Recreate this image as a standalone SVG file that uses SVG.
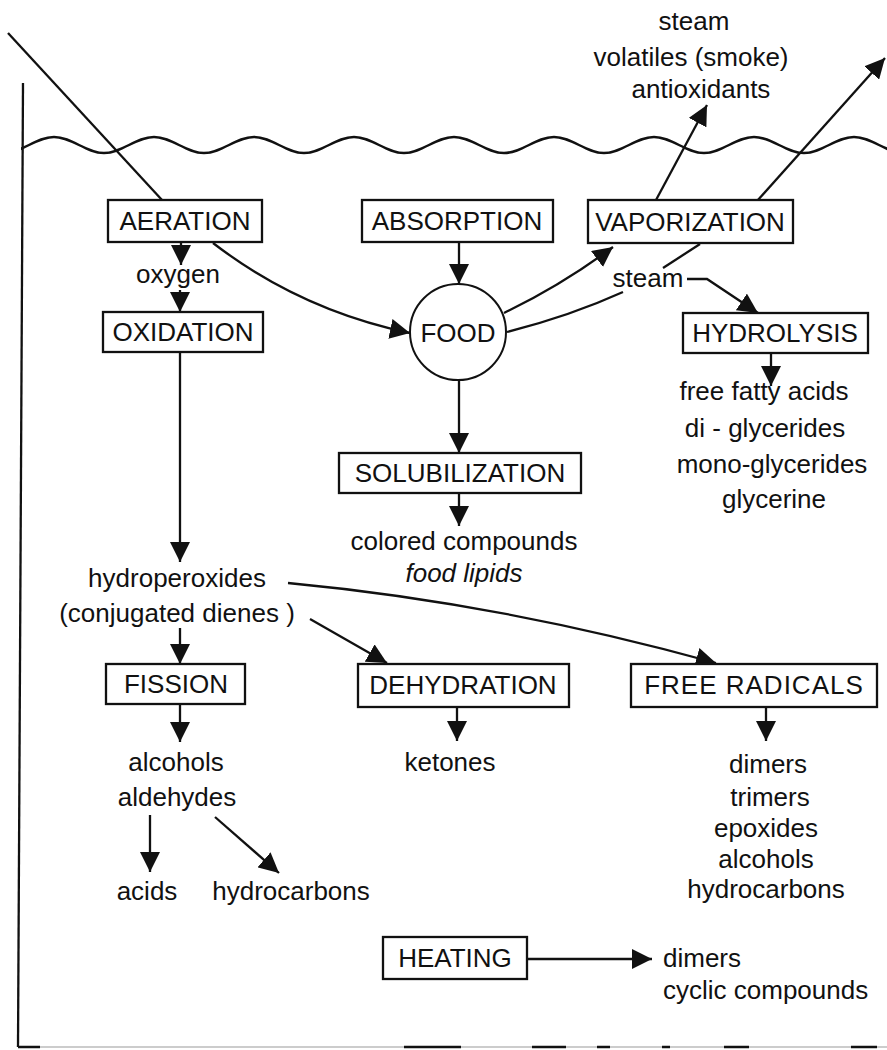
<svg xmlns="http://www.w3.org/2000/svg" width="887" height="1050" viewBox="0 0 887 1050">
<style>
.box{fill:#fff;stroke:#111;stroke-width:2.3}
.bt{font-family:"Liberation Sans",Arial,sans-serif;font-size:26px;fill:#111;text-anchor:middle}
.t{font-family:"Liberation Sans",Arial,sans-serif;font-size:26px;fill:#111;text-anchor:middle}
.ts{font-family:"Liberation Sans",Arial,sans-serif;font-size:26px;fill:#111;text-anchor:start}
.c{fill:none;stroke:#111;stroke-width:2.3}
.a{fill:none;stroke:#111;stroke-width:2.3;marker-end:url(#ah)}
</style>
<defs>
<marker id="ah" viewBox="0 0 20 20" refX="20" refY="10" markerWidth="20" markerHeight="20" markerUnits="userSpaceOnUse" orient="auto">
<path d="M0,0 L20,10 L0,20 z" fill="#111"/>
</marker>
<clipPath id="wclip"><rect x="21" y="100" width="870" height="80"/></clipPath>
</defs>
<rect width="887" height="1050" fill="#fff"/>

<g id="frame">
<path class="c" d="M23,83 L18,1047"/>
<path d="M18,1047 H887" stroke="#bbb" stroke-width="1.5" fill="none"/>
<path d="M18,1047 H40 M404,1047 H461 M532,1047 H566 M597,1047 H610 M662,1047 H670 M724,1047 H749 M851,1047 H877" stroke="#111" stroke-width="2.5" fill="none"/>
<path clip-path="url(#wclip)" fill="none" stroke="#111" stroke-width="2.5" d="M4,153 C22,153 36,137 54,137 S86,153 104,153 S136,137 154,137 S186,153 204,153 S236,137 254,137 S286,153 304,153 S336,137 354,137 S386,153 404,153 S436,137 454,137 S486,153 504,153 S536,137 554,137 S586,153 604,153 S636,137 654,137 S686,153 704,153 S736,137 754,137 S786,153 804,153 S836,137 854,137 S886,153 904,153"/>
</g>

<g id="connectors">
<path class="c" d="M8,33 L162,200"/>
<path class="a" d="M181,242 V265"/>
<path class="a" d="M180,290 V312"/>
<path class="a" d="M213,243 Q300,310 410,333"/>
<path class="a" d="M459,242 V284"/>
<path class="a" d="M180,352 V562"/>
<path class="a" d="M504,313 Q562,285 613,247"/>
<path class="c" d="M507,332 Q570,316 623,292"/>
<path class="a" d="M687,279 L707,279 L758,313"/>
<path class="c" d="M663,268 L700,244"/>
<path class="a" d="M757,201 L885,58"/>
<path class="a" d="M656,200 L707,105"/>
<path class="a" d="M771,353 V386"/>
<path class="a" d="M459,380 V453"/>
<path class="a" d="M459,493 V526"/>
<path class="a" d="M288,583 Q500,603 716,663"/>
<path class="a" d="M310,619 L387,663"/>
<path class="a" d="M180,628 V664"/>
<path class="a" d="M180,704 V742"/>
<path class="a" d="M457,707 V741"/>
<path class="a" d="M766,707 V741"/>
<path class="a" d="M150,815 V872"/>
<path class="a" d="M215,817 L279,873"/>
<path class="a" d="M527,959 H652"/>
</g>

<g id="aeration"><rect class="box" x="108" y="200" width="154" height="42"/><text class="bt" x="185" y="230">AERATION</text></g>
<g id="absorption"><rect class="box" x="362" y="200" width="191" height="42"/><text class="bt" x="457" y="230">ABSORPTION</text></g>
<g id="vaporization"><rect class="box" x="588" y="200" width="205" height="43"/><text class="bt" x="690" y="231">VAPORIZATION</text></g>
<g id="oxygen"><text class="t" x="178" y="283">oxygen</text></g>
<g id="oxidation"><rect class="box" x="103" y="312" width="160" height="40"/><text class="bt" x="183" y="341">OXIDATION</text></g>
<g id="food"><circle cx="458" cy="332" r="48" fill="#fff" stroke="#111" stroke-width="2"/><text class="bt" x="458" y="342">FOOD</text></g>
<g id="steam-mid"><text class="t" x="648" y="287">steam</text></g>
<g id="hydrolysis"><rect class="box" x="683" y="313" width="185" height="40"/><text class="bt" x="775" y="342">HYDROLYSIS</text></g>
<g id="volatiles">
<text class="t" x="694" y="30">steam</text>
<text class="t" x="691" y="66">volatiles (smoke)</text>
<text class="t" x="701" y="98">antioxidants</text>
</g>
<g id="hydrolysis-products">
<text class="t" x="764" y="400">free fatty acids</text>
<text class="t" x="765" y="437">di - glycerides</text>
<text class="t" x="772" y="473">mono-glycerides</text>
<text class="t" x="774" y="508">glycerine</text>
</g>
<g id="solubilization"><rect class="box" x="339" y="453" width="242" height="40"/><text class="bt" x="460" y="482">SOLUBILIZATION</text></g>
<g id="solub-products">
<text class="t" x="464" y="550">colored compounds</text>
<text class="t" x="464" y="582" font-style="italic">food lipids</text>
</g>
<g id="hydroperoxides">
<text class="t" x="177" y="587">hydroperoxides</text>
<text class="t" x="177" y="622">(conjugated dienes )</text>
</g>
<g id="fission"><rect class="box" x="106" y="664" width="139" height="40"/><text class="bt" x="176" y="693">FISSION</text></g>
<g id="dehydration"><rect class="box" x="358" y="664" width="211" height="43"/><text class="bt" x="463" y="694">DEHYDRATION</text></g>
<g id="free-radicals"><rect class="box" x="631" y="664" width="246" height="43"/><text class="bt" x="754" y="694" letter-spacing="1">FREE RADICALS</text></g>
<g id="fission-products">
<text class="t" x="176" y="771">alcohols</text>
<text class="t" x="177" y="806">aldehydes</text>
</g>
<g id="acids"><text class="t" x="147" y="900">acids</text></g>
<g id="hydrocarbons"><text class="t" x="291" y="900">hydrocarbons</text></g>
<g id="ketones"><text class="t" x="450" y="771">ketones</text></g>
<g id="radical-products">
<text class="t" x="768" y="773">dimers</text>
<text class="t" x="770" y="806">trimers</text>
<text class="t" x="766" y="837">epoxides</text>
<text class="t" x="766" y="868">alcohols</text>
<text class="t" x="766" y="898">hydrocarbons</text>
</g>
<g id="heating"><rect class="box" x="383" y="937" width="144" height="42"/><text class="bt" x="455" y="967">HEATING</text></g>
<g id="heating-products">
<text class="ts" x="663" y="967">dimers</text>
<text class="ts" x="663" y="999">cyclic compounds</text>
</g>
</svg>
